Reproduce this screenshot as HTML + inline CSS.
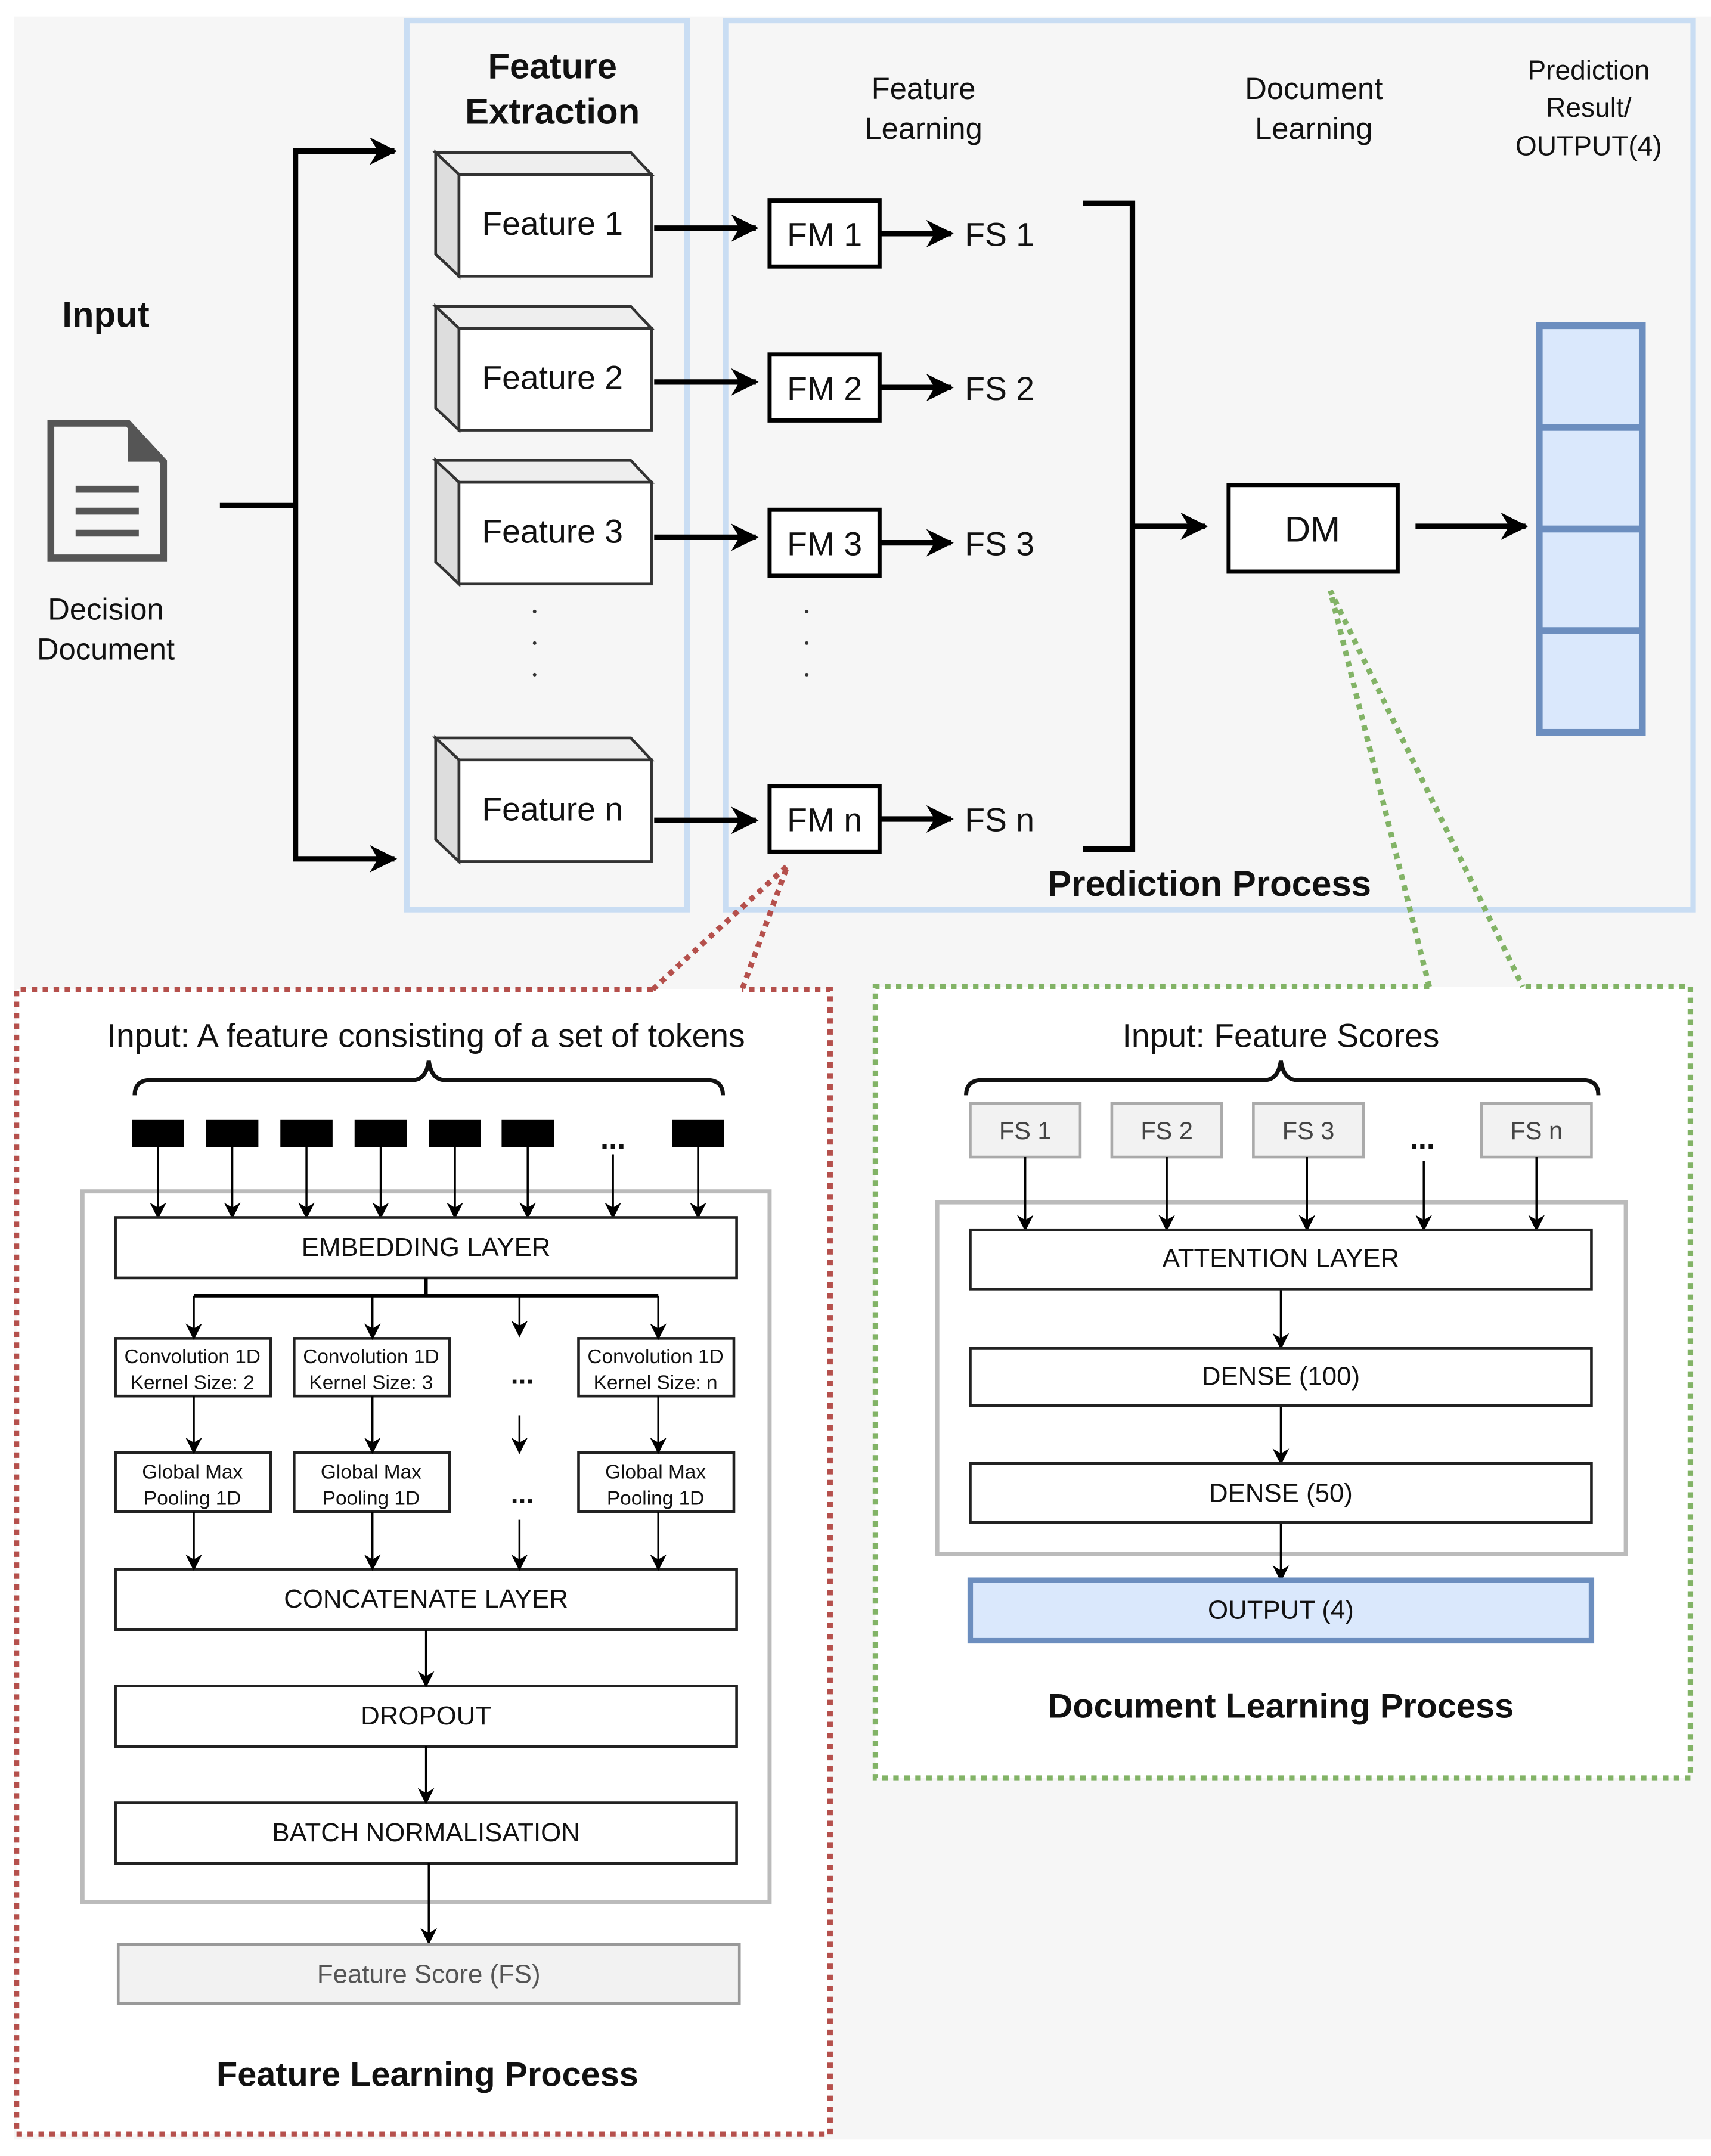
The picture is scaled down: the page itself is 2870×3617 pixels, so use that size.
<!DOCTYPE html>
<html><head><meta charset="utf-8"><style>
html,body{margin:0;padding:0;background:#fff}
svg{display:block}
text{font-family:"Liberation Sans",Arial,sans-serif;fill:#111}
</style></head><body>
<svg width="2870" height="3617" viewBox="0 0 1245 1569" preserveAspectRatio="none" xmlns="http://www.w3.org/2000/svg">
<defs>
<marker id="bg" viewBox="0 0 10 10" refX="9" refY="5" markerWidth="24" markerHeight="20" markerUnits="userSpaceOnUse" orient="auto"><path d="M0,0 L10,5 L0,10 L3,5 z" fill="#000"/></marker>
<marker id="sm" viewBox="0 0 10 10" refX="9" refY="5" markerWidth="12" markerHeight="12" markerUnits="userSpaceOnUse" orient="auto"><path d="M0,0 L10,5 L0,10 L3,5 z" fill="#000"/></marker>
</defs>
<rect x="0" y="0" width="1245" height="1569" fill="#fff"/>
<rect x="10" y="12" width="1235" height="1545" fill="#f6f6f6"/>

<rect x="296" y="15" width="204" height="647" fill="none" stroke="#c9ddf3" stroke-width="4"/>
<rect x="528" y="15" width="704" height="647" fill="none" stroke="#c9ddf3" stroke-width="4"/>

<text x="402" y="57" font-size="26" font-weight="bold" text-anchor="middle">Feature</text>
<text x="402" y="90" font-size="26" font-weight="bold" text-anchor="middle">Extraction</text>
<text x="672" y="72" font-size="22" text-anchor="middle">Feature</text>
<text x="672" y="101" font-size="22" text-anchor="middle">Learning</text>
<text x="956" y="72" font-size="22" text-anchor="middle">Document</text>
<text x="956" y="101" font-size="22" text-anchor="middle">Learning</text>
<text x="1156" y="58" font-size="20" text-anchor="middle">Prediction</text>
<text x="1156" y="85" font-size="20" text-anchor="middle">Result/</text>
<text x="1156" y="113" font-size="20" text-anchor="middle">OUTPUT(4)</text>

<text x="77" y="238" font-size="26" font-weight="bold" text-anchor="middle">Input</text>
<path d="M37,308 L93,308 L119,336 L119,406 L37,406 Z" fill="#f6f6f6" stroke="#555" stroke-width="5"/>
<path d="M93,308 L119,336 L93,336 Z" fill="#555"/>
<line x1="55" y1="356" x2="101" y2="356" stroke="#555" stroke-width="5"/>
<line x1="55" y1="372" x2="101" y2="372" stroke="#555" stroke-width="5"/>
<line x1="55" y1="388" x2="101" y2="388" stroke="#555" stroke-width="5"/>
<text x="77" y="451" font-size="22" text-anchor="middle">Decision</text>
<text x="77" y="480" font-size="22" text-anchor="middle">Document</text>

<path d="M160,368 L215,368 M215,110 L215,625" stroke="#000" stroke-width="4" fill="none"/>
<line x1="213" y1="110" x2="287" y2="110" stroke="#000" stroke-width="4" marker-end="url(#bg)"/>
<line x1="213" y1="625" x2="287" y2="625" stroke="#000" stroke-width="4" marker-end="url(#bg)"/>

<g stroke="#333" stroke-width="2">
<g id="c1">
<path d="M317,111 L459,111 L474,127 L334,127 Z" fill="#eee"/>
<path d="M317,111 L334,127 L334,201 L317,185 Z" fill="#ddd"/>
<rect x="334" y="127" width="140" height="74" fill="#fff"/>
</g>
<use href="#c1" y="112"/>
<use href="#c1" y="224"/>
<use href="#c1" y="426"/>
</g>
<text x="402" y="171" font-size="24" text-anchor="middle">Feature 1</text>
<text x="402" y="283" font-size="24" text-anchor="middle">Feature 2</text>
<text x="402" y="395" font-size="24" text-anchor="middle">Feature 3</text>
<text x="402" y="597" font-size="24" text-anchor="middle">Feature n</text>
<g fill="#333"><circle cx="389" cy="445" r="1.3"/><circle cx="389" cy="468" r="1.3"/><circle cx="389" cy="491" r="1.3"/>
<circle cx="587" cy="445" r="1.3"/><circle cx="587" cy="468" r="1.3"/><circle cx="587" cy="491" r="1.3"/></g>

<g stroke="#000" stroke-width="4">
<line x1="476" y1="166" x2="550" y2="166" marker-end="url(#bg)"/>
<line x1="476" y1="278" x2="550" y2="278" marker-end="url(#bg)"/>
<line x1="476" y1="391" x2="550" y2="391" marker-end="url(#bg)"/>
<line x1="476" y1="597" x2="550" y2="597" marker-end="url(#bg)"/>
<line x1="641" y1="170" x2="692" y2="170" marker-end="url(#bg)"/>
<line x1="641" y1="282" x2="692" y2="282" marker-end="url(#bg)"/>
<line x1="641" y1="395" x2="692" y2="395" marker-end="url(#bg)"/>
<line x1="641" y1="596" x2="692" y2="596" marker-end="url(#bg)"/>
</g>
<g fill="#fff" stroke="#000" stroke-width="3">
<rect x="560" y="146" width="80" height="48"/>
<rect x="560" y="258" width="80" height="48"/>
<rect x="560" y="371" width="80" height="48"/>
<rect x="560" y="572" width="80" height="48"/>
</g>
<g font-size="24" text-anchor="middle">
<text x="600" y="179">FM 1</text><text x="600" y="291">FM 2</text><text x="600" y="404">FM 3</text><text x="600" y="605">FM n</text>
</g>
<g font-size="24">
<text x="702" y="179">FS 1</text><text x="702" y="291">FS 2</text><text x="702" y="404">FS 3</text><text x="702" y="605">FS n</text>
</g>
<path d="M788,148 L824,148 L824,618 L788,618" stroke="#000" stroke-width="4" fill="none"/>
<line x1="824" y1="383" x2="877" y2="383" stroke="#000" stroke-width="4" marker-end="url(#bg)"/>
<rect x="894" y="353" width="123" height="63" fill="#fff" stroke="#000" stroke-width="3"/>
<text x="955" y="394" font-size="26" text-anchor="middle">DM</text>
<line x1="1030" y1="383" x2="1110" y2="383" stroke="#000" stroke-width="4" marker-end="url(#bg)"/>
<g fill="#dae8fc" stroke="#6c8ebf" stroke-width="5">
<rect x="1120" y="237" width="75" height="74"/><rect x="1120" y="311" width="75" height="74"/>
<rect x="1120" y="385" width="75" height="74"/><rect x="1120" y="459" width="75" height="74"/>
</g>
<text x="880" y="652" font-size="26" font-weight="bold" text-anchor="middle">Prediction Process</text>

<rect x="12" y="720" width="592" height="833" fill="#fff" stroke="none"/>
<rect x="637" y="718" width="593" height="576" fill="#fff" stroke="none"/>
<path d="M475,720 L12,720 L12,1553 L604,1553 L604,720 L540,720" fill="none" stroke="#b5504c" stroke-width="4" stroke-dasharray="4 4"/>
<path d="M475,720 L573,630 L540,720" fill="none" stroke="#b5504c" stroke-width="4" stroke-dasharray="4 4"/>
<path d="M1040,718 L637,718 L637,1294 L1230,1294 L1230,718 L1108,718" fill="none" stroke="#82b366" stroke-width="4" stroke-dasharray="4 4"/>
<path d="M1040,718 L968,430 L1108,718" fill="none" stroke="#82b366" stroke-width="4" stroke-dasharray="4 4"/>

<text x="310" y="762" font-size="24" text-anchor="middle">Input: A feature consisting of a set of tokens</text>
<path d="M98,797 Q98,786 110,786 L300,786 Q310,786 312,772 Q314,786 324,786 L514,786 Q526,786 526,797" fill="none" stroke="#111" stroke-width="3"/>
<g fill="#000">
<rect x="96" y="815" width="38" height="20"/><rect x="150" y="815" width="38" height="20"/><rect x="204" y="815" width="38" height="20"/>
<rect x="258" y="815" width="38" height="20"/><rect x="312" y="815" width="38" height="20"/><rect x="365" y="815" width="38" height="20"/>
<rect x="489" y="815" width="38" height="20"/>
</g>
<text x="446" y="836" font-size="22" font-weight="bold" text-anchor="middle">...</text>
<rect x="60" y="867" width="500" height="517" fill="none" stroke="#bbb" stroke-width="3"/>
<g stroke="#000" stroke-width="1.5" marker-end="url(#sm)">
<line x1="115" y1="835" x2="115" y2="886"/><line x1="169" y1="835" x2="169" y2="886"/><line x1="223" y1="835" x2="223" y2="886"/>
<line x1="277" y1="835" x2="277" y2="886"/><line x1="331" y1="835" x2="331" y2="886"/><line x1="384" y1="835" x2="384" y2="886"/>
<line x1="446" y1="840" x2="446" y2="886"/><line x1="508" y1="835" x2="508" y2="886"/>
</g>
<g fill="#fff" stroke="#222" stroke-width="2">
<rect x="84" y="886" width="452" height="44"/>
<rect x="84" y="974" width="113" height="42"/><rect x="214" y="974" width="113" height="42"/><rect x="421" y="974" width="113" height="42"/>
<rect x="84" y="1057" width="113" height="43"/><rect x="214" y="1057" width="113" height="43"/><rect x="421" y="1057" width="113" height="43"/>
<rect x="84" y="1142" width="452" height="44"/><rect x="84" y="1227" width="452" height="44"/><rect x="84" y="1312" width="452" height="44"/>
</g>
<path d="M310,930 L310,943 M141,943 L479,943" stroke="#000" stroke-width="2.5" fill="none"/>
<g stroke="#000" stroke-width="1.5" marker-end="url(#sm)">
<line x1="141" y1="943" x2="141" y2="974"/><line x1="271" y1="943" x2="271" y2="974"/><line x1="378" y1="943" x2="378" y2="972"/><line x1="479" y1="943" x2="479" y2="974"/>
<line x1="141" y1="1016" x2="141" y2="1057"/><line x1="271" y1="1016" x2="271" y2="1057"/><line x1="378" y1="1030" x2="378" y2="1057"/><line x1="479" y1="1016" x2="479" y2="1057"/>
<line x1="141" y1="1100" x2="141" y2="1142"/><line x1="271" y1="1100" x2="271" y2="1142"/><line x1="378" y1="1106" x2="378" y2="1142"/><line x1="479" y1="1100" x2="479" y2="1142"/>
<line x1="310" y1="1186" x2="310" y2="1227"/><line x1="310" y1="1271" x2="310" y2="1312"/><line x1="312" y1="1356" x2="312" y2="1414"/>
</g>
<g font-size="19" text-anchor="middle">
<text x="310" y="914">EMBEDDING LAYER</text><text x="310" y="1170">CONCATENATE LAYER</text>
<text x="310" y="1255">DROPOUT</text><text x="310" y="1340">BATCH NORMALISATION</text>
</g>
<g font-size="14.5" text-anchor="middle">
<text x="140" y="992">Convolution 1D</text><text x="140" y="1011">Kernel Size: 2</text>
<text x="270" y="992">Convolution 1D</text><text x="270" y="1011">Kernel Size: 3</text>
<text x="477" y="992">Convolution 1D</text><text x="477" y="1011">Kernel Size: n</text>
<text x="140" y="1076">Global Max</text><text x="140" y="1095">Pooling 1D</text>
<text x="270" y="1076">Global Max</text><text x="270" y="1095">Pooling 1D</text>
<text x="477" y="1076">Global Max</text><text x="477" y="1095">Pooling 1D</text>
</g>
<text x="380" y="1007" font-size="20" font-weight="bold" text-anchor="middle">...</text>
<text x="380" y="1094" font-size="20" font-weight="bold" text-anchor="middle">...</text>
<rect x="86" y="1415" width="452" height="43" fill="#f2f2f2" stroke="#999" stroke-width="2"/>
<text x="312" y="1443" font-size="19" text-anchor="middle" style="fill:#555">Feature Score (FS)</text>
<text x="311" y="1518" font-size="25" font-weight="bold" text-anchor="middle">Feature Learning Process</text>

<text x="932" y="762" font-size="24" text-anchor="middle">Input: Feature Scores</text>
<path d="M703,797 Q703,786 715,786 L920,786 Q930,786 932,772 Q934,786 944,786 L1151,786 Q1163,786 1163,797" fill="none" stroke="#111" stroke-width="3"/>
<g fill="#f2f2f2" stroke="#aaa" stroke-width="2">
<rect x="706" y="803" width="80" height="39"/><rect x="809" y="803" width="80" height="39"/>
<rect x="912" y="803" width="80" height="39"/><rect x="1078" y="803" width="80" height="39"/>
</g>
<g font-size="18" text-anchor="middle">
<text x="746" y="829" style="fill:#444">FS 1</text><text x="849" y="829" style="fill:#444">FS 2</text>
<text x="952" y="829" style="fill:#444">FS 3</text><text x="1118" y="829" style="fill:#444">FS n</text>
</g>
<text x="1035" y="836" font-size="22" font-weight="bold" text-anchor="middle">...</text>
<rect x="682" y="875" width="501" height="256" fill="none" stroke="#bbb" stroke-width="3"/>
<g stroke="#000" stroke-width="1.5" marker-end="url(#sm)">
<line x1="746" y1="842" x2="746" y2="895"/><line x1="849" y1="842" x2="849" y2="895"/><line x1="951" y1="842" x2="951" y2="895"/>
<line x1="1036" y1="845" x2="1036" y2="895"/><line x1="1118" y1="842" x2="1118" y2="895"/>
<line x1="932" y1="938" x2="932" y2="981"/><line x1="932" y1="1023" x2="932" y2="1065"/><line x1="932" y1="1108" x2="932" y2="1150"/>
</g>
<g fill="#fff" stroke="#222" stroke-width="2">
<rect x="706" y="895" width="452" height="43"/><rect x="706" y="981" width="452" height="42"/><rect x="706" y="1065" width="452" height="43"/>
</g>
<rect x="706" y="1150" width="452" height="44" fill="#dae8fc" stroke="#6c8ebf" stroke-width="4"/>
<g font-size="19" text-anchor="middle">
<text x="932" y="922">ATTENTION LAYER</text><text x="932" y="1008">DENSE (100)</text>
<text x="932" y="1093">DENSE (50)</text><text x="932" y="1178">OUTPUT (4)</text>
</g>
<text x="932" y="1250" font-size="25" font-weight="bold" text-anchor="middle">Document Learning Process</text>
</svg>
</body></html>
